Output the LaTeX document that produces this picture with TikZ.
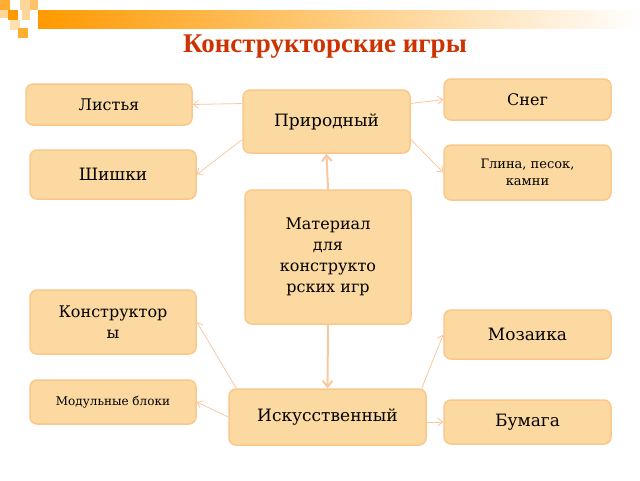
\documentclass[tikz,border=0pt]{standalone}
\usepackage{fontspec}
\setmainfont{DejaVu Serif}
\newfontfamily\titlefont{Liberation Serif}
\usetikzlibrary{arrows.meta}
\definecolor{boxfill}{RGB}{252,217,160}
\definecolor{boxline}{RGB}{250,200,140}
\definecolor{arr}{RGB}{250,200,160}
\definecolor{titlec}{RGB}{204,51,0}
\definecolor{orng}{RGB}{255,153,0}
\begin{document}
\begin{tikzpicture}[x=1pt,y=-1pt,
  bx/.style={draw=boxline,line width=1.5pt,fill=boxfill,rounded corners=7pt,align=center,inner sep=2pt},
  con/.style={draw=arr,line width=0.8pt,-{Straight Barb[length=5pt,width=8pt]}},
  bigcon/.style={draw=arr,line width=2pt,-{Straight Barb[length=6pt,width=10pt]}}]
\useasboundingbox (0,0) rectangle (640,480);
% decoration
\shade[left color=orng,right color=white] (38,10) rectangle (640,28);
\fill[orng!80] (0,0) rectangle (10,10);
\fill[orng!40] (20,0) rectangle (30,10);
\fill[orng!60] (30,0) rectangle (38,10);
\fill[orng!40] (0,10) rectangle (8,18);
\fill[orng] (8,10) rectangle (18,20);
\fill[orng!40] (22,10) rectangle (30,20);
\fill[orng!30] (10,20) rectangle (20,30);
\fill[orng!80] (18,28) rectangle (28,38);
\node[font=\titlefont\bfseries\fontsize{27}{30}\selectfont,text=titlec] (title) at (325,47) {Конструкторские игры};
% boxes
\node[bx,minimum width=166,minimum height=41,font=\fontsize{16}{19}\selectfont] (listya) at (109,104.5) {Листья};
\node[bx,minimum width=167,minimum height=63,font=\fontsize{17}{20}\selectfont] (prir) at (326.5,121.5) {Природный};
\node[bx,minimum width=167,minimum height=41,font=\fontsize{16}{19}\selectfont] (sneg) at (527.5,99.5) {Снег};
\node[bx,minimum width=167,minimum height=55,font=\fontsize{13}{17}\selectfont] (glina) at (527.5,172.5) {Глина, песок,\\камни};
\node[bx,minimum width=166,minimum height=49,font=\fontsize{17}{20}\selectfont] (shishki) at (113,174.5) {Шишки};
\node[bx,minimum width=166,minimum height=134,font=\fontsize{16}{21}\selectfont] (mat) at (328,257) {Материал\\для\\конструкто\\рских игр};
\node[bx,minimum width=166,minimum height=64,font=\fontsize{16}{21}\selectfont] (konstr) at (113,322) {Конструктор\\ы};
\node[bx,minimum width=167,minimum height=49,font=\fontsize{17}{20}\selectfont] (moz) at (527.5,334.5) {Мозаика};
\node[bx,minimum width=166,minimum height=44,font=\fontsize{12}{15}\selectfont] (modul) at (113,402) {Модульные блоки};
\node[bx,minimum width=197,minimum height=56,font=\fontsize{17}{20}\selectfont] (isk) at (327.5,417) {Искусственный};
\node[bx,minimum width=167,minimum height=44,font=\fontsize{17}{20}\selectfont] (bum) at (527.5,422) {Бумага};
% connectors
\draw[con] (prir.west) ++(0,-18) -- (listya.east);
\draw[con] (prir.west) ++(0,18) -- (shishki.east);
\draw[con] (prir.east) ++(0,-18) -- (sneg.west);
\draw[con] (prir.east) ++(0,18) -- (glina.west);
\draw[bigcon] (mat.north) -- (prir.south);
\draw[bigcon] (mat.south) -- (isk.north);
\draw[con] (isk.north west) ++(8,0) -- (konstr.east);
\draw[con] (isk.west) -- (modul.east);
\draw[con] (isk.north east) ++(-5,0) -- (moz.west);
\draw[con] (isk.east) ++(0,5) -- (bum.west);
\end{tikzpicture}
\end{document}
